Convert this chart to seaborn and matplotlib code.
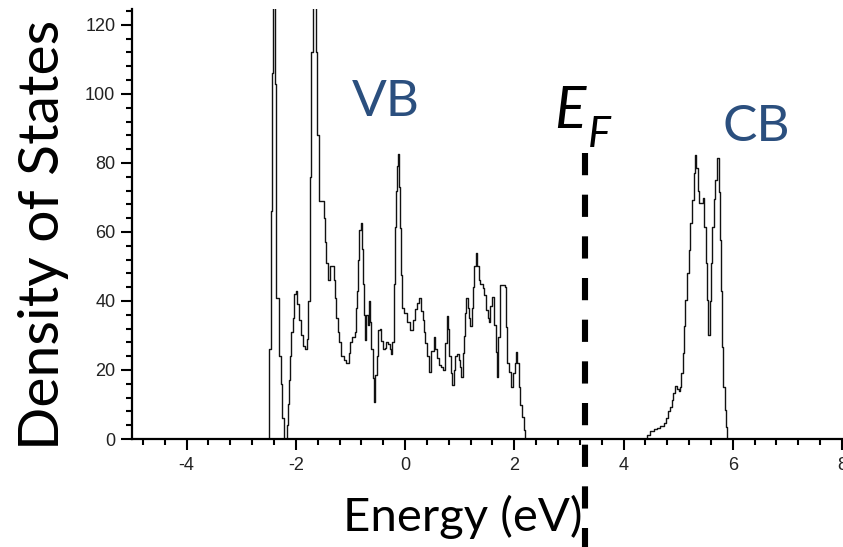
import numpy as np
import matplotlib
matplotlib.use("Agg")
import matplotlib.pyplot as plt
import seaborn as sns

# density of states (energy in eV = left edge of each step)
energy = [-5.0,
          -2.49, -2.46, -2.43, -2.41, -2.385, -2.36, -2.31, -2.28, -2.25, -2.22,
          -2.16, -2.14, -2.12, -2.10, -2.08, -2.06, -2.03, -2.00, -1.97, -1.94,
          -1.91, -1.87, -1.83, -1.80, -1.78, -1.75, -1.72, -1.68, -1.63, -1.61,
          -1.57, -1.48, -1.46, -1.44, -1.41, -1.38, -1.30, -1.277, -1.258, -1.234,
          -1.203, -1.172, -1.124, -1.075, -1.033, -1.00, -0.97, -0.923, -0.89, -0.88,
          -0.86, -0.837, -0.80, -0.79, -0.77, -0.758, -0.74, -0.715, -0.685, -0.654,
          -0.636, -0.617, -0.593, -0.575, -0.544, -0.513, -0.495, -0.465, -0.44, -0.41,
          -0.374, -0.342, -0.311, -0.282, -0.257, -0.233, -0.209, -0.19, -0.172, -0.147,
          -0.128, -0.11, -0.092, -0.073, -0.055, -0.013, 0.037, 0.084, 0.14, 0.176,
          0.22, 0.262, 0.30, 0.323, 0.34, 0.372, 0.40, 0.445, 0.482, 0.524,
          0.555, 0.586, 0.616, 0.66, 0.696, 0.725, 0.77, 0.788, 0.81, 0.84,
          0.866, 0.89, 0.92, 0.952, 0.982, 1.013, 1.03, 1.055, 1.073, 1.09,
          1.123, 1.154, 1.178, 1.196, 1.227, 1.245, 1.27, 1.29, 1.32, 1.35,
          1.38, 1.42, 1.45, 1.48, 1.51, 1.54, 1.56, 1.60, 1.635, 1.66,
          1.685, 1.71, 1.745, 1.825, 1.85, 1.87, 1.90, 1.94, 1.98, 2.01,
          2.03, 2.05, 2.08, 2.11, 2.14, 2.17, 2.19,
          4.37, 4.43, 4.49, 4.55, 4.615, 4.675, 4.74, 4.77, 4.81, 4.85,
          4.88, 4.91, 4.94, 4.98, 5.01, 5.04, 5.06, 5.085, 5.10, 5.13,
          5.165, 5.195, 5.225, 5.255, 5.285, 5.31, 5.335, 5.36, 5.385, 5.46,
          5.48, 5.505, 5.53, 5.55, 5.575, 5.60, 5.62, 5.65, 5.68, 5.715,
          5.74, 5.76, 5.78, 5.80, 5.825, 5.85, 5.87, 5.89, 8.0]
dos = [0,
       26, 66, 106, 150, 103, 41, 24, 16, 6, 0,
       4, 10, 17, 24, 31, 35, 42, 43, 39, 34.5,
       30, 27, 26, 29, 40, 76, 112, 150, 112, 88,
       69, 64, 57, 51, 46, 50, 46, 41, 35, 31,
       28, 24, 23, 22, 25, 28, 29.6, 31, 38, 43,
       52, 60.6, 62.6, 55, 45, 36, 28.7, 36, 33, 40,
       34, 26, 17.7, 10.8, 18.6, 24, 31.6, 32, 28.5, 26,
       26.5, 28, 27.5, 26, 24.7, 28, 45, 61.5, 72, 79,
       82.6, 73, 61, 47.5, 38, 36.5, 34, 31.6, 34.6, 37.6,
       39.5, 40.8, 37, 34.6, 31, 27.8, 24, 19.5, 25.6, 29.7,
       26, 23.5, 21.5, 20.8, 20, 27.8, 35.7, 32, 24, 19,
       15.6, 20, 24, 24.5, 23, 21, 18, 25, 29.8, 36.5,
       41, 38, 35, 32.8, 38, 44, 50, 54, 50, 46,
       45, 43.7, 41.6, 37.4, 35, 34, 38.5, 41.2, 33, 25.3,
       18, 29.6, 44.6, 44, 32.5, 22, 19.3, 15, 19, 22,
       25.3, 21.9, 15, 9.9, 6.5, 2.6, 0,
       0, 1.2, 2.2, 2.8, 3.3, 3.9, 4.5, 6, 8, 9.4,
       11.3, 13.2, 15.4, 14.4, 13.8, 15, 19, 25, 32.6, 40.3,
       48, 54.8, 62.6, 69.3, 77, 82.3, 78.6, 72, 68.3, 69.8,
       61.5, 51, 40.3, 30, 40, 51, 61.5, 69.6, 75, 81.4,
       71.5, 57.7, 43, 26.8, 15, 8.4, 3.6, 0, 0]

fermi_level = 3.3
x_major = [-4, -2, 0, 2, 4, 6, 8]
y_major = [0, 20, 40, 60, 80, 100, 120]

sns.set_style("ticks")
plt.rcParams["font.family"] = ["Liberation Sans", "DejaVu Sans"]
plt.rcParams["axes.unicode_minus"] = False
plt.rcParams["lines.scale_dashes"] = False

W, H = 843, 547
fig = plt.figure(figsize=(W / 100, H / 100), dpi=100)
ax = fig.add_axes([132 / W, 108 / H, 710 / W, 430 / H])

sns.lineplot(x=energy, y=dos, ax=ax, color="#111111", linewidth=1.0,
             drawstyle="steps-post", estimator=None, sort=False)

ax.set_xlim(-5, 8)
ax.set_ylim(0, 124.6)
ax.set_xticks(x_major)
ax.set_xticks(np.arange(-4.8, 8.0, 0.4), minor=True)
ax.set_yticks(y_major)
ax.set_yticks(np.arange(4, 124.6, 4), minor=True)
ax.tick_params(axis="both", which="major", length=8, width=1.5, labelsize=13,
               direction="out", color="black", labelcolor="#222222")
ax.tick_params(axis="both", which="minor", length=4.5, width=1.5, direction="out", color="black")
ax.tick_params(axis="y", pad=4)
ax.tick_params(axis="x", pad=5)
sns.despine(ax=ax)
for s in ["left", "bottom"]:
    ax.spines[s].set_linewidth(1.6)
    ax.spines[s].set_color("black")

# Fermi level dashed line, running down past the axis
ax.plot([fermi_level, fermi_level], [83, -31.5], color="black", linewidth=4.4,
        dashes=(16, 14), dash_capstyle="butt", clip_on=False)

big = ["Lato", "DejaVu Sans"]
fig.text(44 / W, 1 - 235 / H, "Density of States", rotation=90, ha="center", va="center",
         fontsize=41, family=big, color="black")
fig.text(463 / W, 1 - 517 / H, "Energy (eV)", ha="center", va="center",
         fontsize=34, family=big, color="black")
fig.text(386 / W, 1 - 102 / H, "VB", ha="center", va="center",
         fontsize=37, family=big, color="#2b4f7e")
fig.text(756 / W, 1 - 127 / H, "CB", ha="center", va="center",
         fontsize=37, family=big, color="#2b4f7e")
fig.text(570 / W, 1 - 112 / H, "E", ha="center", va="center", style="italic",
         fontsize=42, family=big, color="black")
fig.text(599 / W, 1 - 135 / H, "F", ha="center", va="center", style="italic",
         fontsize=31, family=big, color="black")

fig.savefig("out.png", dpi=100)
